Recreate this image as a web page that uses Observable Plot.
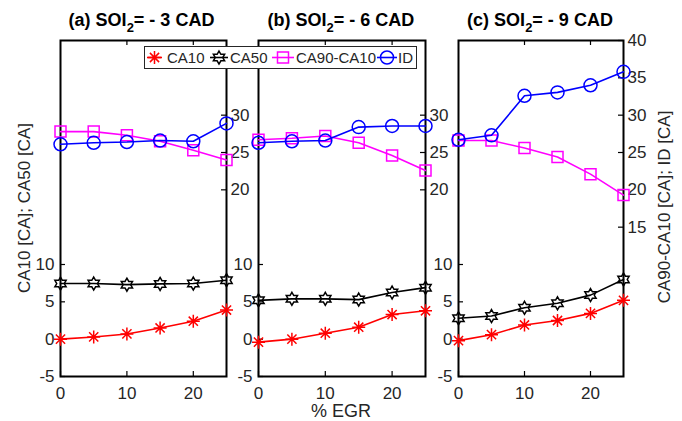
<!DOCTYPE html>
<html><head><meta charset="utf-8">
<script src="https://cdn.jsdelivr.net/npm/d3@7"></script>
<script src="https://cdn.jsdelivr.net/npm/@observablehq/plot@0.6"></script>
<style>
html,body{margin:0;padding:0;background:#fff;}
#chart{position:relative;width:682px;height:421px;overflow:hidden;font-family:"Liberation Sans",Arial,Helvetica,sans-serif;background:#fff;}
#chart > div{position:absolute;top:0;}
#chart > svg{position:absolute;top:0;left:0;}
</style></head><body><div id="chart"></div>
<script>
// ---------- data ----------
const egr = [0, 5, 10, 15, 20, 25];
const seriesNames = ["CA10", "CA50", "CA90-CA10", "ID"];
const panelIds = ["a", "b", "c"];
const panelSoi = ["- 3", "- 6", "- 9"];

// SOI2 = -3 CAD
const ca10_a = [0.0, 0.3, 0.7, 1.5, 2.4, 3.9];
const ca50_a = [7.45, 7.45, 7.3, 7.4, 7.45, 7.9];
const dur_a  = [27.8, 27.8, 27.3, 26.5, 25.3, 24.0];
const id_a   = [26.1, 26.3, 26.4, 26.6, 26.5, 28.9];
// SOI2 = -6 CAD
const ca10_b = [-0.4, 0.0, 0.8, 1.6, 3.3, 3.8];
const ca50_b = [5.2, 5.4, 5.4, 5.3, 6.25, 6.9];
const dur_b  = [26.7, 26.9, 27.2, 26.3, 24.6, 22.6];
const id_b   = [26.3, 26.5, 26.6, 28.4, 28.55, 28.55];
// SOI2 = -9 CAD
const ca10_c = [-0.2, 0.6, 1.9, 2.5, 3.45, 5.2];
const ca50_c = [2.8, 3.1, 4.2, 4.8, 5.9, 8.0];
const dur_c  = [26.6, 26.6, 25.6, 24.4, 22.1, 19.3];
const id_c   = [26.7, 27.3, 32.6, 33.05, 34.0, 35.8];

const xTicks = [0, 10, 20];
const xTopTicks = [10, 20];
const leftTicks = [-5, 0, 5, 10];
const rightTicksAB = [20, 25, 30];
const rightTicksC = [15, 20, 25, 30, 35, 40];

// ---------- styles ----------
const colors = ["#ff0000", "#000000", "#ff00ff", "#0000ff"];
const symAsterisk = {draw(ctx, size) {
  const r = Math.sqrt(size / Math.PI);
  for (let k = 0; k < 4; k++) {
    const a = k * Math.PI / 4, c = Math.cos(a) * r, s = Math.sin(a) * r;
    ctx.moveTo(c, s); ctx.lineTo(-c, -s);
  }
}};
const symHexagram = {draw(ctx, size) {
  const R = Math.sqrt(size / Math.PI), ri = R / Math.sqrt(3);
  for (let k = 0; k < 12; k++) {
    const a = -Math.PI / 2 + k * Math.PI / 6, rr = k % 2 ? ri : R;
    const x = rr * Math.cos(a), y = rr * Math.sin(a);
    if (k) ctx.lineTo(x, y); else ctx.moveTo(x, y);
  }
  ctx.closePath();
}};
const symSquare = {draw(ctx, size) {
  const h = Math.sqrt(size / Math.PI);
  ctx.rect(-h, -h, 2 * h, 2 * h);
}};
const symCircle = {draw(ctx, size) {
  const r = Math.sqrt(size / Math.PI);
  ctx.moveTo(r, 0); ctx.arc(0, 0, r, 0, 2 * Math.PI);
}};
const symbols = [symAsterisk, symHexagram, symSquare, symCircle];
const radii = [6.5, 6.5, 5.5, 6.5];

const panelData = {
  a: [ca10_a, ca50_a, dur_a, id_a],
  b: [ca10_b, ca50_b, dur_b, id_b],
  c: [ca10_c, ca50_c, dur_c, id_c]
};

const FONT = '"Liberation Sans", Arial, Helvetica, sans-serif';
const TXT = "#262626";
const H = 421, MT = 40, MB = 45;
const TICKFS = 17;

function makePanel(pid, rightTicks, width, mL, mR) {
  const innerW = width - mL - mR, innerH = H - MT - MB;
  const marks = [
    Plot.frame({stroke: "#000", strokeWidth: 2}),
    Plot.ruleX(xTicks, {x: d => d, insetTop: innerH - 5, stroke: "#000", strokeWidth: 1.2}),
    Plot.ruleX(xTopTicks, {x: d => d, insetBottom: innerH - 5, stroke: "#000", strokeWidth: 1.2}),
    Plot.ruleY(leftTicks, {y: d => d, insetRight: innerW - 5, stroke: "#000", strokeWidth: 1.2}),
    Plot.ruleY(rightTicks, {y: d => d, insetLeft: innerW - 5, stroke: "#000", strokeWidth: 1.2}),
    Plot.text(xTicks, {x: d => d, text: d => String(d), frameAnchor: "bottom", lineAnchor: "top", dy: 10, fontSize: TICKFS, fill: TXT}),
    Plot.text(leftTicks, {y: d => d, text: d => String(d), frameAnchor: "left", textAnchor: "end", dx: -6, fontSize: TICKFS, fill: TXT}),
    Plot.text(rightTicks, {y: d => d, text: d => String(d), frameAnchor: "right", textAnchor: "start", dx: 4, fontSize: TICKFS, fill: TXT})
  ];
  panelData[pid].forEach((vals, s) => {
    const rows = egr.map((x, i) => ({x, v: vals[i]}));
    marks.push(Plot.line(rows, {x: "x", y: "v", stroke: colors[s], strokeWidth: 1.6}));
    marks.push(Plot.dot(rows, {x: "x", y: "v", stroke: colors[s], fill: "none", strokeWidth: 1.5, symbol: symbols[s], r: radii[s]}));
  });
  return Plot.plot({
    width, height: H, marginTop: MT, marginBottom: MB, marginLeft: mL, marginRight: mR,
    style: {background: "transparent", overflow: "visible", fontFamily: FONT, fontSize: TICKFS + "px", color: TXT},
    x: {domain: [0, 25], axis: null},
    y: {domain: [-5, 40], axis: null},
    marks
  });
}

const chart = document.getElementById("chart");
const layout = [
  {pid: "a", left: 0, width: 256, mL: 60, mR: 30, rt: rightTicksAB},
  {pid: "b", left: 228, width: 227, mL: 30, mR: 30, rt: rightTicksAB},
  {pid: "c", left: 428, width: 254, mL: 30, mR: 59, rt: rightTicksC}
];
layout.forEach(L => {
  const div = document.createElement("div");
  div.style.left = L.left + "px";
  div.style.width = L.width + "px";
  div.appendChild(makePanel(L.pid, L.rt, L.width, L.mL, L.mR));
  chart.appendChild(div);
});

// ---------- overlay: titles, axis labels, legend ----------
const svg = d3.select(chart).append("svg").attr("width", 682).attr("height", 421)
  .style("font-family", FONT).style("pointer-events", "none");

const titleX = [141.5, 341, 540];
panelIds.forEach((pid, i) => {
  const t = svg.append("text").attr("x", titleX[i]).attr("y", 26).attr("text-anchor", "middle")
    .attr("font-weight", "bold").attr("font-size", 18).attr("fill", "#000");
  t.append("tspan").text(`(${pid}) SOI`);
  t.append("tspan").attr("dy", 6).attr("font-size", 13).text("2");
  t.append("tspan").attr("dy", -6).text(`= ${panelSoi[i]} CAD`);
});

svg.append("text").attr("transform", "translate(30,208) rotate(-90)").attr("text-anchor", "middle")
  .attr("font-size", 17).attr("fill", TXT).text("CA10 [CA]; CA50 [CA]");
svg.append("text").attr("transform", "translate(670,207) rotate(-90)").attr("text-anchor", "middle")
  .attr("font-size", 17).attr("fill", TXT).text("CA90-CA10 [CA]; ID [CA]");
svg.append("text").attr("x", 341).attr("y", 417).attr("text-anchor", "middle")
  .attr("font-size", 18).attr("fill", TXT).text("% EGR");

// legend
const lg = svg.append("g");
lg.append("rect").attr("x", 144.5).attr("y", 46.5).attr("width", 272).attr("height", 22)
  .attr("fill", "#fff").attr("stroke", TXT).attr("stroke-width", 1);
const legX = [{l1: 147, l2: 162, tx: 167}, {l1: 210, l2: 228, tx: 230}, {l1: 272, l2: 294, tx: 296}, {l1: 377, l2: 397, tx: 398}];
const ly = 57.5;
seriesNames.forEach((name, s) => {
  const e = legX[s], cx = (e.l1 + e.l2) / 2;
  lg.append("line").attr("x1", e.l1).attr("x2", e.l2).attr("y1", ly).attr("y2", ly)
    .attr("stroke", colors[s]).attr("stroke-width", 1.6);
  const p = d3.path();
  symbols[s].draw(p, radii[s] * radii[s] * Math.PI);
  lg.append("path").attr("d", p.toString()).attr("transform", `translate(${cx},${ly})`)
    .attr("fill", "none").attr("stroke", colors[s]).attr("stroke-width", 1.5);
  lg.append("text").attr("x", e.tx).attr("y", 63).attr("font-size", 15).attr("fill", TXT).text(name);
});
</script></body></html>
